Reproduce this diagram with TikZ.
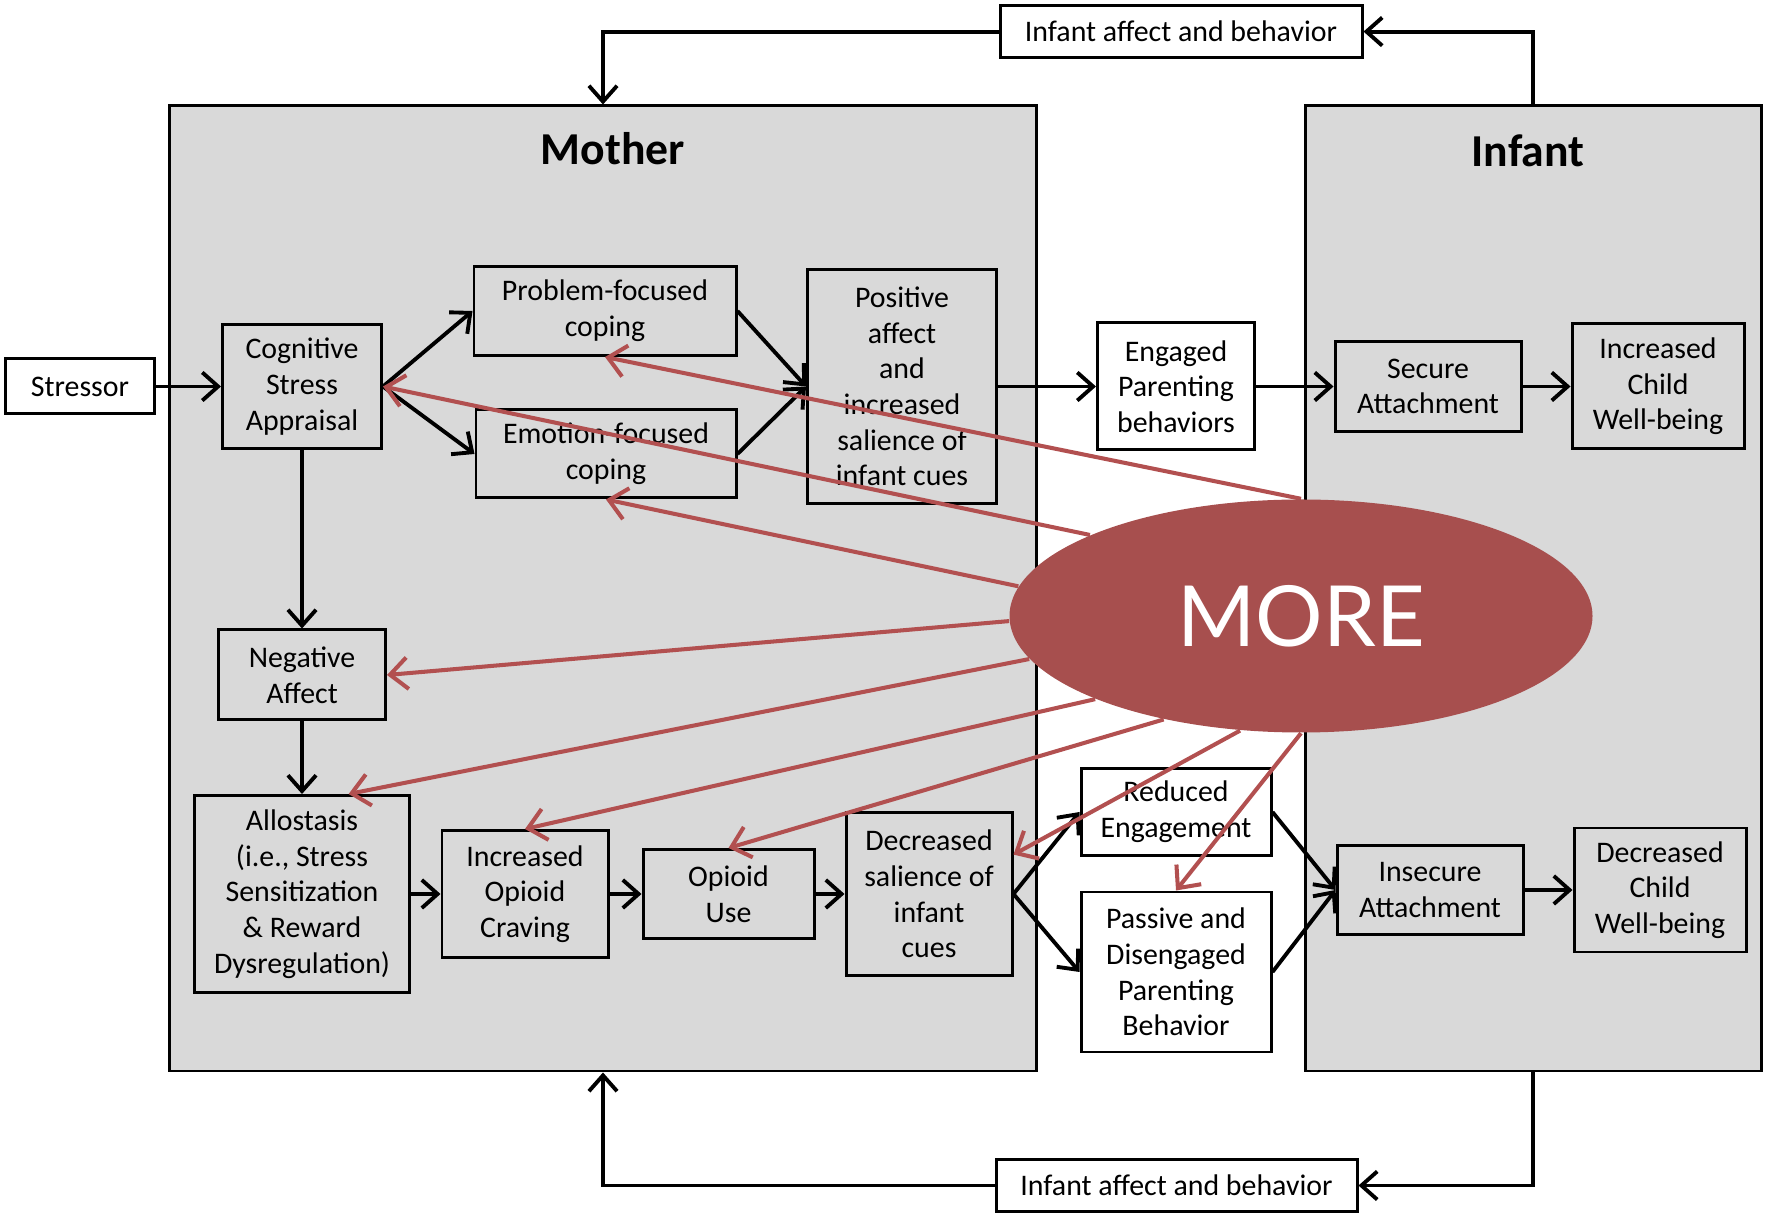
\documentclass[tikz,border=0pt]{standalone}
\usepackage{fontspec}
\setmainfont{Carlito}
\newfontfamily\morefont{Lato}
\usetikzlibrary{shapes.geometric,arrows.meta}
\definecolor{panelgray}{RGB}{217,217,217}
\definecolor{morefill}{RGB}{167,79,78}
\definecolor{morered}{RGB}{178,80,80}
\pgfdeclarelayer{panels}
\pgfdeclarelayer{front}
\pgfsetlayers{panels,main,front}

\begin{document}
\begin{tikzpicture}[y=-1cm,
  cbox/.style={draw, line width=0.85pt, align=center, inner sep=1pt, font=\fontsize{8.5}{10.15}\selectfont},
  wbox/.style={cbox, fill=white},
  panel/.style={draw, line width=0.85pt, fill=panelgray, minimum height=9.65cm},
  arr/.style={line width=1.1pt, -{Straight Barb[length=4.5pt,width=8pt]}},
  redarr/.style={draw=morered, line width=1.15pt, -{Straight Barb[length=5pt,width=9pt]}}]
\useasboundingbox (0,0) rectangle (17.72,12.22);

\begin{pgfonlayer}{panels}
\node[panel, minimum width=8.665cm] (mother) at (6.03,5.885) {};
\node[panel, minimum width=4.56cm] (infant) at (15.33,5.885) {};
\end{pgfonlayer}
\node[font=\bfseries\fontsize{13}{15}\selectfont] (mtitle) at (6.13,1.49) {Mother};
\node[font=\bfseries\fontsize{13}{15}\selectfont] (ititle) at (15.28,1.51) {Infant};

% feedback boxes
\node[wbox, minimum width=3.62cm, minimum height=0.52cm] (fbtop) at (11.81,0.316) {Infant affect and behavior};
\node[wbox, minimum width=3.61cm, minimum height=0.52cm] (fbbot) at (11.765,11.855) {Infant affect and behavior};

% upper path
\node[wbox, minimum width=1.49cm, minimum height=0.55cm] (str) at (0.80,3.865) {Stressor};
\node[cbox, minimum width=1.59cm, minimum height=1.24cm] (cog) at (3.02,3.865) {Cognitive\\Stress\\Appraisal};
\node[cbox, minimum width=2.62cm, minimum height=0.89cm] (prob) at (6.05,3.11) {Problem-focused\\coping};
\node[cbox, minimum width=2.60cm, minimum height=0.88cm] (emo) at (6.06,4.54) {Emotion-focused\\coping};
\node[cbox, minimum width=1.89cm, minimum height=2.34cm] (pos) at (9.02,3.865) {Positive\\affect\\and\\increased\\salience of\\infant cues};
\node[wbox, minimum width=1.57cm, minimum height=1.27cm] (eng) at (11.76,3.865) {Engaged\\Parenting\\behaviors};
\node[cbox, minimum width=1.86cm, minimum height=0.90cm] (sec) at (14.28,3.865) {Secure\\Attachment};
\node[cbox, minimum width=1.72cm, minimum height=1.25cm] (inc) at (16.58,3.865) {Increased\\Child\\Well-being};

% lower path
\node[cbox, minimum width=1.67cm, minimum height=0.90cm] (neg) at (3.02,6.75) {Negative\\Affect};
\node[cbox, minimum width=2.15cm, minimum height=1.97cm] (allo) at (3.02,8.94) {Allostasis\\(i.e., Stress\\Sensitization\\\& Reward\\Dysregulation)};
\node[cbox, minimum width=1.66cm, minimum height=1.27cm] (crav) at (5.25,8.94) {Increased\\Opioid\\Craving};
\node[cbox, minimum width=1.71cm, minimum height=0.89cm] (use) at (7.285,8.94) {Opioid\\Use};
\node[cbox, minimum width=1.66cm, minimum height=1.63cm] (dec) at (9.29,8.94) {Decreased\\salience of\\infant\\cues};
\node[wbox, minimum width=1.90cm, minimum height=0.87cm] (red) at (11.76,8.12) {Reduced\\Engagement};
\node[wbox, minimum width=1.90cm, minimum height=1.60cm] (pas) at (11.76,9.72) {Passive and\\Disengaged\\Parenting\\Behavior};
\node[cbox, minimum width=1.86cm, minimum height=0.89cm] (insec) at (14.30,8.90) {Insecure\\Attachment};
\node[cbox, minimum width=1.72cm, minimum height=1.24cm] (decc) at (16.60,8.90) {Decreased\\Child\\Well-being};

\draw[arr] (infant.north) |- (fbtop);
\draw[arr] (fbtop) -| (mother.north);
\draw[arr] (infant.south) |- (fbbot);
\draw[arr] (fbbot) -| (mother.south);

\draw[arr] (str) -- (cog);
\draw[arr] (cog.east) -- (prob.west);
\draw[arr] (cog.east) -- (emo.west);
\draw[arr] (prob.east) -- (pos.west);
\draw[arr] (emo.east) -- (pos.west);
\draw[arr] (pos) -- (eng);
\draw[arr] (eng) -- (sec);
\draw[arr] (sec) -- (inc);

\draw[arr] (cog) -- (neg);
\draw[arr] (neg) -- (allo);
\draw[arr] (allo) -- (crav);
\draw[arr] (crav) -- (use);
\draw[arr] (use) -- (dec);
\draw[arr] (dec.east) -- (red.west);
\draw[arr] (dec.east) -- (pas.west);
\draw[arr] (red.east) -- (insec.west);
\draw[arr] (pas.east) -- (insec.west);
\draw[arr] (insec) -- (decc);

\begin{pgfonlayer}{front}
\node[ellipse, fill=morefill, minimum width=5.83cm, minimum height=2.33cm, inner sep=0pt, text=white, font=\morefont\fontsize{24}{28}\selectfont] (more) at (13.01,6.16) {MORE};
\end{pgfonlayer}

\draw[redarr] (more.90) -- (prob.south);
\draw[redarr] (more.159) -- (cog.east);
\draw[redarr] (more.174) -- (emo.south);
\draw[redarr] (more.181) -- (neg.east);
\draw[redarr] (more.189) -- (allo.65);
\draw[redarr] (more.202) -- (crav.north);
\draw[redarr] (more.217) -- (use.north);
\draw[redarr] (more.242) -- (dec.25);
\draw[redarr] (more.270) -- (pas.north);
\end{tikzpicture}
\end{document}
